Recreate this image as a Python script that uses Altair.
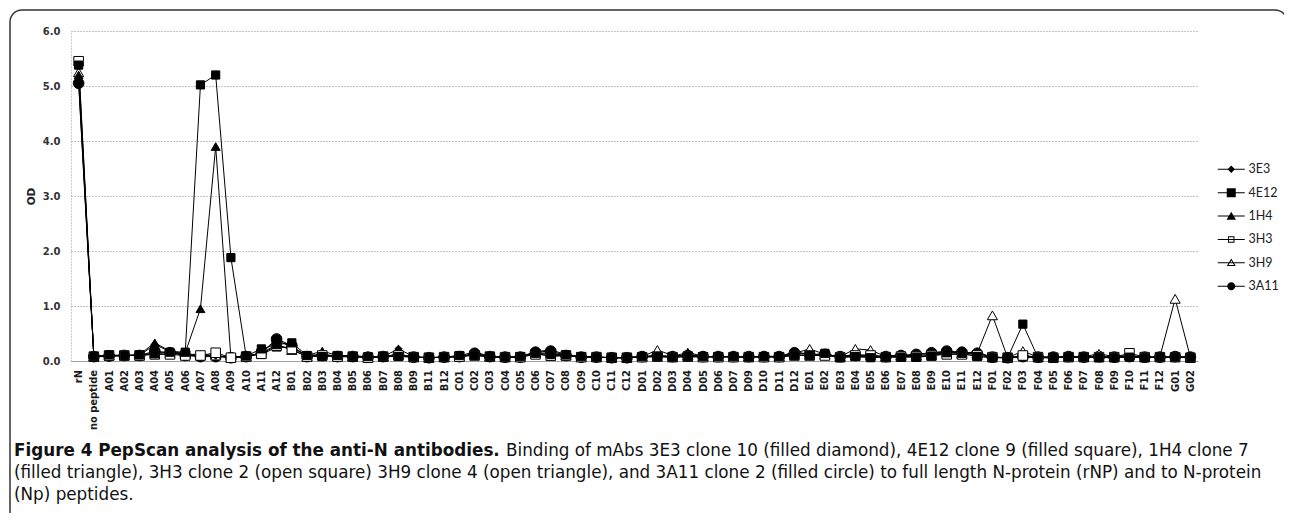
import altair as alt
import pandas as pd

categories = ["rN", "no peptide",
              "A01", "A02", "A03", "A04", "A05", "A06", "A07", "A08", "A09", "A10", "A11", "A12",
              "B01", "B02", "B03", "B04", "B05", "B06", "B07", "B08", "B09", "B11", "B12",
              "C01", "C02", "C03", "C04", "C05", "C06", "C07", "C08", "C09", "C10", "C11", "C12",
              "D01", "D02", "D03", "D04", "D05", "D06", "D07", "D09", "D10", "D11", "D12",
              "E01", "E02", "E03", "E04", "E05", "E06", "E07", "E08", "E09", "E10", "E11", "E12",
              "F01", "F02", "F03", "F04", "F05", "F06", "F07", "F08", "F09", "F10", "F11", "F12",
              "G01", "G02"]

series_names = ["3E3", "4E12", "1H4", "3H3", "3H9", "3A11"]

od_3E3 = [5.10, 0.09,
          0.10, 0.10, 0.10, 0.30, 0.17, 0.12, 0.12, 0.10, 0.06, 0.08, 0.15, 0.38,
          0.25, 0.10, 0.12, 0.09, 0.09, 0.08, 0.08, 0.22, 0.08, 0.06, 0.07,
          0.09, 0.17, 0.08, 0.07, 0.08, 0.17, 0.20, 0.12, 0.08, 0.07, 0.06, 0.06,
          0.08, 0.10, 0.08, 0.12, 0.08, 0.08, 0.08, 0.07, 0.09, 0.08, 0.17,
          0.12, 0.12, 0.08, 0.12, 0.10, 0.08, 0.10, 0.12, 0.14, 0.17, 0.15, 0.14,
          0.07, 0.06, 0.08, 0.07, 0.07, 0.08, 0.07, 0.08, 0.07, 0.08, 0.07, 0.07,
          0.08, 0.07]
od_4E12 = [5.38, 0.08,
           0.11, 0.10, 0.11, 0.13, 0.16, 0.16, 5.02, 5.20, 1.88, 0.09, 0.22, 0.30,
           0.33, 0.10, 0.08, 0.10, 0.08, 0.08, 0.08, 0.08, 0.07, 0.06, 0.07,
           0.10, 0.10, 0.08, 0.07, 0.08, 0.14, 0.12, 0.11, 0.08, 0.07, 0.06, 0.06,
           0.08, 0.08, 0.07, 0.08, 0.08, 0.08, 0.08, 0.07, 0.08, 0.08, 0.10,
           0.10, 0.14, 0.06, 0.08, 0.06, 0.07, 0.07, 0.07, 0.09, 0.15, 0.14, 0.08,
           0.06, 0.06, 0.67, 0.06, 0.06, 0.07, 0.07, 0.06, 0.06, 0.07, 0.06, 0.07,
           0.07, 0.06]
od_1H4 = [5.20, 0.08,
          0.08, 0.10, 0.12, 0.33, 0.18, 0.15, 0.95, 3.90, 0.06, 0.10, 0.12, 0.25,
          0.25, 0.10, 0.18, 0.10, 0.10, 0.07, 0.08, 0.12, 0.07, 0.06, 0.07,
          0.08, 0.12, 0.08, 0.07, 0.08, 0.15, 0.08, 0.10, 0.07, 0.07, 0.06, 0.06,
          0.08, 0.08, 0.08, 0.16, 0.08, 0.08, 0.08, 0.08, 0.08, 0.08, 0.12,
          0.10, 0.10, 0.08, 0.08, 0.08, 0.08, 0.12, 0.08, 0.10, 0.18, 0.14, 0.17,
          0.06, 0.06, 0.07, 0.06, 0.06, 0.07, 0.07, 0.08, 0.07, 0.07, 0.06, 0.07,
          0.07, 0.06]
od_3H3 = [5.45, 0.08,
          0.10, 0.10, 0.10, 0.12, 0.12, 0.10, 0.10, 0.15, 0.06, 0.08, 0.13, 0.28,
          0.22, 0.08, 0.10, 0.08, 0.08, 0.06, 0.08, 0.10, 0.07, 0.06, 0.07,
          0.08, 0.10, 0.08, 0.07, 0.07, 0.12, 0.10, 0.10, 0.07, 0.07, 0.06, 0.06,
          0.07, 0.08, 0.07, 0.08, 0.07, 0.07, 0.07, 0.07, 0.07, 0.07, 0.10,
          0.10, 0.10, 0.07, 0.10, 0.10, 0.07, 0.08, 0.08, 0.10, 0.12, 0.12, 0.10,
          0.07, 0.06, 0.10, 0.07, 0.06, 0.07, 0.07, 0.07, 0.07, 0.14, 0.07, 0.07,
          0.07, 0.06]
od_3H9 = [5.25, 0.08,
          0.10, 0.10, 0.10, 0.15, 0.15, 0.12, 0.10, 0.10, 0.06, 0.08, 0.14, 0.30,
          0.20, 0.08, 0.12, 0.08, 0.08, 0.07, 0.08, 0.12, 0.07, 0.06, 0.07,
          0.08, 0.12, 0.08, 0.07, 0.07, 0.14, 0.15, 0.10, 0.07, 0.07, 0.06, 0.06,
          0.08, 0.20, 0.10, 0.10, 0.08, 0.08, 0.08, 0.08, 0.08, 0.08, 0.14,
          0.22, 0.12, 0.08, 0.22, 0.20, 0.08, 0.10, 0.10, 0.12, 0.15, 0.14, 0.14,
          0.83, 0.06, 0.18, 0.07, 0.07, 0.08, 0.08, 0.13, 0.08, 0.10, 0.07, 0.08,
          1.13, 0.07]
od_3A11 = [5.05, 0.08,
           0.09, 0.10, 0.10, 0.18, 0.15, 0.10, 0.08, 0.08, 0.06, 0.08, 0.15, 0.40,
           0.28, 0.08, 0.10, 0.08, 0.08, 0.07, 0.08, 0.12, 0.07, 0.06, 0.07,
           0.08, 0.14, 0.08, 0.07, 0.07, 0.16, 0.18, 0.10, 0.07, 0.07, 0.06, 0.06,
           0.08, 0.10, 0.08, 0.10, 0.08, 0.08, 0.08, 0.08, 0.08, 0.08, 0.15,
           0.12, 0.12, 0.08, 0.10, 0.10, 0.08, 0.10, 0.12, 0.15, 0.18, 0.16, 0.14,
           0.07, 0.06, 0.08, 0.07, 0.07, 0.08, 0.07, 0.08, 0.07, 0.08, 0.07, 0.07,
           0.08, 0.07]

y_ticks = [0, 1, 2, 3, 4, 5, 6]

caption_bold = "Figure 4 PepScan analysis of the anti-N antibodies."
caption_rest_1 = "Binding of mAbs 3E3 clone 10 (filled diamond), 4E12 clone 9 (filled square), 1H4 clone 7"
caption_line_2 = "(filled triangle), 3H3 clone 2 (open square) 3H9 clone 4 (open triangle), and 3A11 clone 2 (filled circle) to full length N-protein (rNP) and to N-protein"
caption_line_3 = "(Np) peptides."

# styles
point_shapes = ["diamond", "square", "triangle-up", "square", "triangle-up", "circle"]
point_fills = ["black", "black", "black", "white", "white", "black"]
point_sizes = [55, 115, 100, 36, 75, 60]
draw_rank = [3, 6, 4, 5, 2, 1]
# legend glyphs: a 1px connector line plus the marker, all drawn as filled outlines
LINE = "M-2.7,-0.1H2.7V0.1H-2.7Z"
legend_paths = [
    LINE + "M0,-0.75L0.75,0L0,0.75L-0.75,0Z",
    LINE + "M-0.9,-0.9H0.9V0.9H-0.9Z",
    LINE + "M0,-0.85L0.95,0.75H-0.95Z",
    LINE + "M-0.65,-0.65H0.65V0.65H-0.65ZM-0.45,-0.45V0.45H0.45V-0.45Z",
    LINE + "M0,-0.85L0.9,0.65H-0.9ZM0,-0.46L-0.55,0.45H0.55Z",
    LINE + "M0.8,0A0.8,0.8,0,1,1,-0.8,0A0.8,0.8,0,1,1,0.8,0Z",
]

values = {"3E3": od_3E3, "4E12": od_4E12, "1H4": od_1H4,
          "3H3": od_3H3, "3H9": od_3H9, "3A11": od_3A11}
rows = []
for s, rank in zip(series_names, draw_rank):
    for c, v in zip(categories, values[s]):
        rows.append({"cat": c, "series": s, "od": v, "z": rank})
df = pd.DataFrame(rows).sort_values("z", kind="stable")

W, H = 1127, 330

x_enc = alt.X("cat:N", sort=categories, scale=alt.Scale(domain=categories),
              title=None,
              axis=alt.Axis(labelAngle=270, labelFont="DejaVu Sans Condensed",
                            labelFontSize=11, labelFontWeight="bold", labelColor="#1a1a1a",
                            labelPadding=8.5, ticks=False, domainColor="#a0a0a0", domainWidth=1,
                            grid=False, labelOverlap=False, labelLimit=200))
y_enc = alt.Y("od:Q", scale=alt.Scale(domain=[0, 6], nice=False), title="OD",
              axis=alt.Axis(values=y_ticks, format=".1f", labelFont="DejaVu Sans", labelFontSize=10,
                            labelFontWeight="bold", labelColor="#333333", labelPadding=11,
                            ticks=False, domain=True, domainColor="#999999", domainDash=[1, 2],
                            gridColor="#8a8a8a", gridDash=[1, 2], gridWidth=1,
                            titleFont="DejaVu Sans", titleFontSize=10.5, titleFontWeight="bold",
                            titleColor="#222222", titlePadding=6))

base = alt.Chart(df)

lines = base.mark_line(color="black", strokeWidth=1).encode(
    x=x_enc, y=y_enc, detail="series:N")

points = base.mark_point(filled=True, stroke="black", strokeWidth=1, opacity=1).encode(
    x=x_enc, y=y_enc,
    shape=alt.Shape("series:N", scale=alt.Scale(domain=series_names, range=point_shapes), legend=None),
    fill=alt.Fill("series:N", scale=alt.Scale(domain=series_names, range=point_fills), legend=None),
    size=alt.Size("series:N", scale=alt.Scale(domain=series_names, range=point_sizes), legend=None),
    order=alt.Order("z:Q"),
)

leg = alt.Legend(title=None, orient="none", legendX=1154, legendY=132, padding=0,
                 labelFont="Lato", labelFontSize=12.5, labelColor="#222222",
                 labelOffset=11, rowPadding=10.4, symbolSize=100,
                 symbolFillColor="black", symbolStrokeWidth=0)

legend_layer = base.transform_filter("datum.od < 0").mark_point(
    filled=True, fill="black", size=100, opacity=1).encode(
    x=x_enc, y=y_enc,
    shape=alt.Shape("series:N", scale=alt.Scale(domain=series_names, range=legend_paths), legend=leg, title=None),
)

one = pd.DataFrame({"t": [""]})
frame = alt.Chart(one).mark_rect(fillOpacity=0, stroke="#333333", strokeWidth=1.5, cornerRadius=12).encode(
    x=alt.value(-61), x2=alt.value(1216), y=alt.value(-21), y2=alt.value(520))


def cap(text, xv, yv, weight):
    return alt.Chart(pd.DataFrame({"t": [text]})).mark_text(
        align="left", baseline="middle", font="DejaVu Sans", fontSize=16.8,
        fontWeight=weight, color="#111111").encode(text="t:N", x=alt.value(xv), y=alt.value(yv))


cap1 = cap(caption_bold, -57, 420, "bold")
cap2 = cap(caption_rest_1, 435, 420, "normal")
cap3 = cap(caption_line_2, -57, 442, "normal")
cap4 = cap(caption_line_3, -57, 464, "normal")

chart = alt.layer(frame, lines, points, legend_layer, cap1, cap2, cap3, cap4).resolve_scale(
    shape="independent", fill="independent", size="independent"
).properties(
    width=W, height=H,
    autosize=alt.AutoSizeParams(type="none"),
    padding={"left": 63, "top": 23, "right": 86, "bottom": 152},
).configure_view(strokeWidth=0)

chart.save("out.html", embed_options={"renderer": "svg", "actions": False})
